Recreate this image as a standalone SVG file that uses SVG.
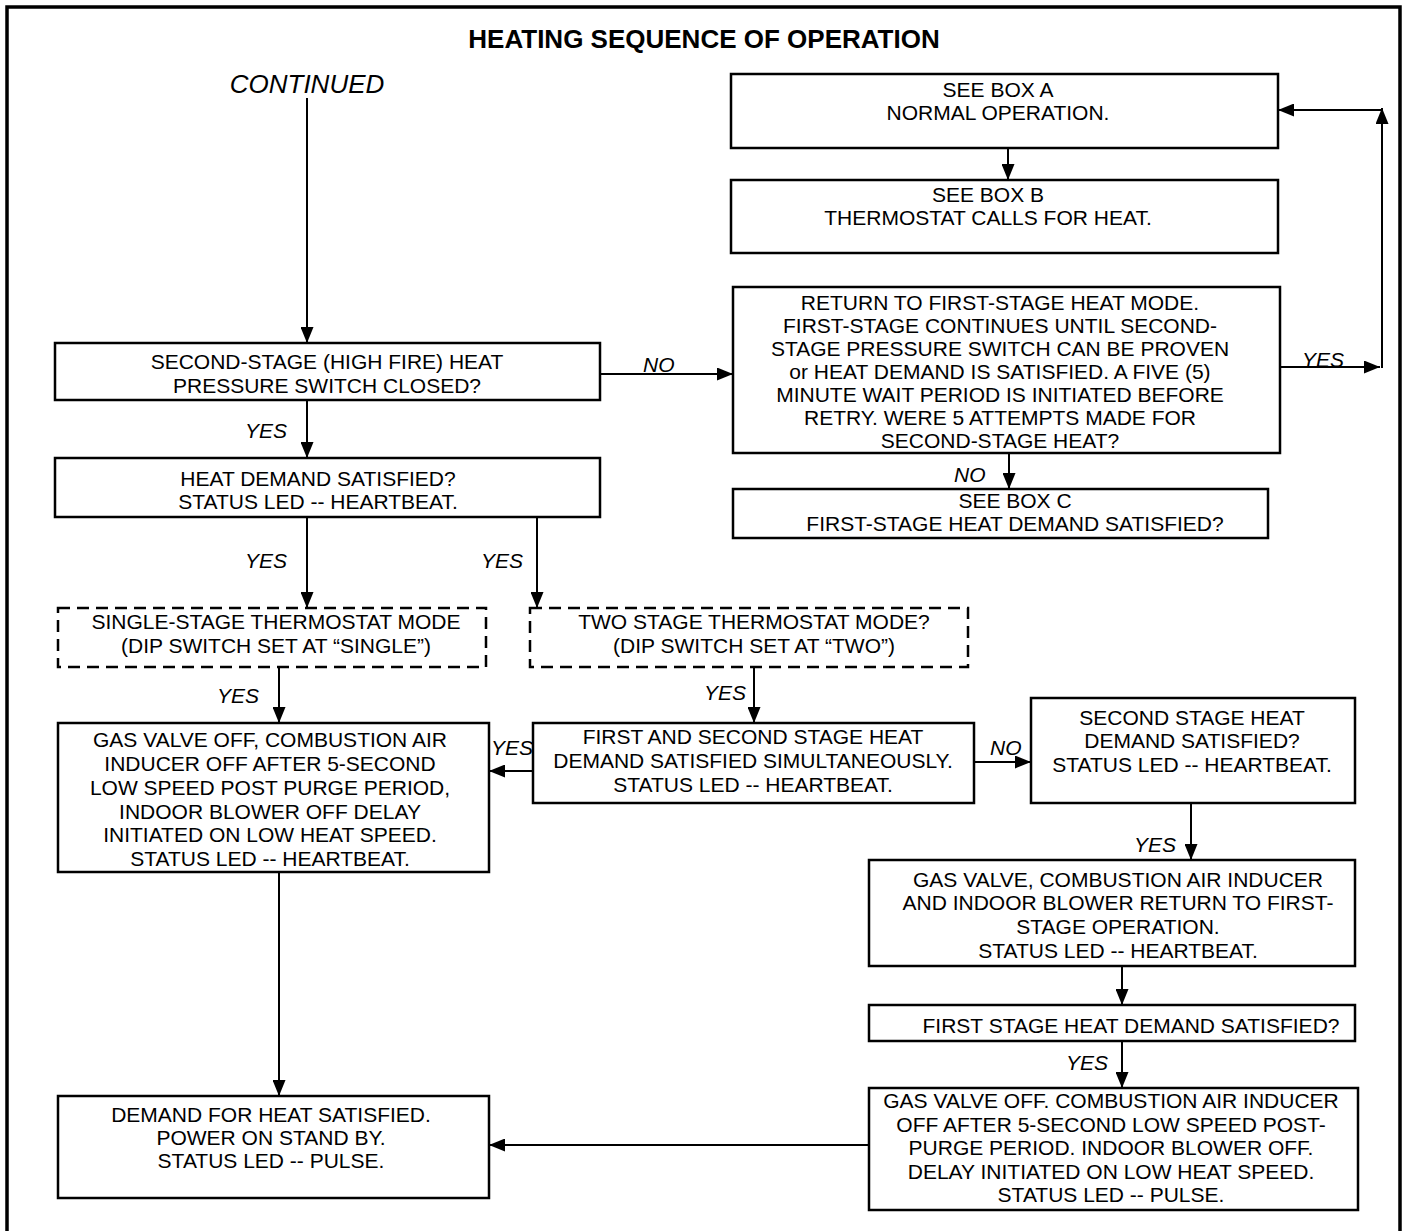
<svg xmlns="http://www.w3.org/2000/svg" width="1408" height="1231" viewBox="0 0 1408 1231">
<style>
.box{fill:#fff;stroke:#000;stroke-width:2.5}
.dash{stroke-dasharray:12 7}
.t{font-family:"Liberation Sans",Arial,sans-serif;font-size:21px;text-anchor:middle;fill:#000}
.lbl{font-family:"Liberation Sans",Arial,sans-serif;font-size:21px;font-style:italic;fill:#000}
.c{stroke:#000;stroke-width:2;fill:none;marker-end:url(#ah)}
.frame{stroke:#000;stroke-width:3.5;fill:none}
</style>
<defs>
<marker id="ah" viewBox="0 0 16 13" refX="16" refY="6.5" markerWidth="16" markerHeight="13" markerUnits="userSpaceOnUse" orient="auto">
<path d="M0,0 L16,6.5 L0,13 z" fill="#000"/>
</marker>
</defs>
<rect width="1408" height="1231" fill="#fff"/>
<path class="frame" d="M7,1231 V7 H1400 V1231"/>
<text x="704" y="48" style="font-family:'Liberation Sans',Arial,sans-serif;font-size:26px;font-weight:bold;text-anchor:middle">HEATING SEQUENCE OF OPERATION</text>
<text x="307" y="93" style="font-family:'Liberation Sans',Arial,sans-serif;font-size:26px;font-style:italic;text-anchor:middle">CONTINUED</text>

<g id="connectors">
<path class="c" d="M307,98 V343"/>
<path class="c" d="M307,400 V458"/>
<path class="c" d="M600,374 H733"/>
<path class="c" d="M307,517 V608"/>
<path class="c" d="M537,517 V608"/>
<path class="c" d="M279,667 V723"/>
<path class="c" d="M754,667 V723"/>
<path class="c" d="M533,771 H489"/>
<path class="c" d="M974,762 H1031"/>
<path class="c" d="M1191,803 V860"/>
<path class="c" d="M1122,966 V1005"/>
<path class="c" d="M1122,1041 V1088"/>
<path class="c" d="M869,1145 H489"/>
<path class="c" d="M279,872 V1096"/>
<path class="c" d="M1008,148 V180"/>
<path class="c" d="M1009,453 V489"/>
<path class="c" d="M1280,367 H1380"/>
<path class="c" d="M1382,368 V108"/>
<path class="c" d="M1382,110 H1278"/>
<text class="lbl" x="643" y="372">NO</text>
<text class="lbl" x="245" y="438">YES</text>
<text class="lbl" x="245" y="568">YES</text>
<text class="lbl" x="481" y="568">YES</text>
<text class="lbl" x="217" y="703">YES</text>
<text class="lbl" x="704" y="700">YES</text>
<text class="lbl" x="491" y="755">YES</text>
<text class="lbl" x="990" y="755">NO</text>
<text class="lbl" x="1134" y="852">YES</text>
<text class="lbl" x="1066" y="1070">YES</text>
<text class="lbl" x="954" y="482">NO</text>
<text class="lbl" x="1302" y="367">YES</text>
</g>

<g id="boxA">
<rect class="box" x="731" y="74" width="547" height="74"/>
<text class="t" x="998" y="97">SEE BOX A</text>
<text class="t" x="998" y="120">NORMAL OPERATION.</text>
</g>
<g id="boxB">
<rect class="box" x="731" y="180" width="547" height="73"/>
<text class="t" x="988" y="202">SEE BOX B</text>
<text class="t" x="988" y="225">THERMOSTAT CALLS FOR HEAT.</text>
</g>
<g id="boxR">
<rect class="box" x="733" y="287" width="547" height="166"/>
<text class="t" x="1000" y="310">RETURN TO FIRST-STAGE HEAT MODE.</text>
<text class="t" x="1000" y="333">FIRST-STAGE CONTINUES UNTIL SECOND-</text>
<text class="t" x="1000" y="356">STAGE PRESSURE SWITCH CAN BE PROVEN</text>
<text class="t" x="1000" y="379">or HEAT DEMAND IS SATISFIED. A FIVE (5)</text>
<text class="t" x="1000" y="402">MINUTE WAIT PERIOD IS INITIATED BEFORE</text>
<text class="t" x="1000" y="425">RETRY. WERE 5 ATTEMPTS MADE FOR</text>
<text class="t" x="1000" y="448">SECOND-STAGE HEAT?</text>
</g>
<g id="boxC">
<rect class="box" x="733" y="489" width="535" height="49"/>
<text class="t" x="1015" y="508">SEE BOX C</text>
<text class="t" x="1015" y="531">FIRST-STAGE HEAT DEMAND SATISFIED?</text>
</g>
<g id="box1">
<rect class="box" x="55" y="343" width="545" height="57"/>
<text class="t" x="327" y="369">SECOND-STAGE (HIGH FIRE) HEAT</text>
<text class="t" x="327" y="393">PRESSURE SWITCH CLOSED?</text>
</g>
<g id="box2">
<rect class="box" x="55" y="458" width="545" height="59"/>
<text class="t" x="318" y="486">HEAT DEMAND SATISFIED?</text>
<text class="t" x="318" y="509">STATUS LED -- HEARTBEAT.</text>
</g>
<g id="box3">
<rect class="box dash" x="58" y="608" width="428" height="59"/>
<text class="t" x="276" y="629">SINGLE-STAGE THERMOSTAT MODE</text>
<text class="t" x="276" y="653">(DIP SWITCH SET AT “SINGLE”)</text>
</g>
<g id="box4">
<rect class="box dash" x="530" y="608" width="438" height="59"/>
<text class="t" x="754" y="629">TWO STAGE THERMOSTAT MODE?</text>
<text class="t" x="754" y="653">(DIP SWITCH SET AT “TWO”)</text>
</g>
<g id="box5">
<rect class="box" x="58" y="723" width="431" height="149"/>
<text class="t" x="270" y="747">GAS VALVE OFF, COMBUSTION AIR</text>
<text class="t" x="270" y="771">INDUCER OFF AFTER 5-SECOND</text>
<text class="t" x="270" y="795">LOW SPEED POST PURGE PERIOD,</text>
<text class="t" x="270" y="819">INDOOR BLOWER OFF DELAY</text>
<text class="t" x="270" y="842">INITIATED ON LOW HEAT SPEED.</text>
<text class="t" x="270" y="866">STATUS LED -- HEARTBEAT.</text>
</g>
<g id="box6">
<rect class="box" x="533" y="723" width="441" height="80"/>
<text class="t" x="753" y="744">FIRST AND SECOND STAGE HEAT</text>
<text class="t" x="753" y="768">DEMAND SATISFIED SIMULTANEOUSLY.</text>
<text class="t" x="753" y="792">STATUS LED -- HEARTBEAT.</text>
</g>
<g id="box7">
<rect class="box" x="1031" y="698" width="324" height="105"/>
<text class="t" x="1192" y="725">SECOND STAGE HEAT</text>
<text class="t" x="1192" y="748">DEMAND SATISFIED?</text>
<text class="t" x="1192" y="772">STATUS LED -- HEARTBEAT.</text>
</g>
<g id="box8">
<rect class="box" x="869" y="860" width="486" height="106"/>
<text class="t" x="1118" y="887">GAS VALVE, COMBUSTION AIR INDUCER</text>
<text class="t" x="1118" y="910">AND INDOOR BLOWER RETURN TO FIRST-</text>
<text class="t" x="1118" y="934">STAGE OPERATION.</text>
<text class="t" x="1118" y="958">STATUS LED -- HEARTBEAT.</text>
</g>
<g id="box9">
<rect class="box" x="869" y="1005" width="486" height="36"/>
<text class="t" x="1131" y="1033">FIRST STAGE HEAT DEMAND SATISFIED?</text>
</g>
<g id="box10">
<rect class="box" x="869" y="1088" width="489" height="122"/>
<text class="t" x="1111" y="1108">GAS VALVE OFF. COMBUSTION AIR INDUCER</text>
<text class="t" x="1111" y="1132">OFF AFTER 5-SECOND LOW SPEED POST-</text>
<text class="t" x="1111" y="1155">PURGE PERIOD. INDOOR BLOWER OFF.</text>
<text class="t" x="1111" y="1179">DELAY INITIATED ON LOW HEAT SPEED.</text>
<text class="t" x="1111" y="1202">STATUS LED -- PULSE.</text>
</g>
<g id="box11">
<rect class="box" x="58" y="1096" width="431" height="102"/>
<text class="t" x="271" y="1122">DEMAND FOR HEAT SATISFIED.</text>
<text class="t" x="271" y="1145">POWER ON STAND BY.</text>
<text class="t" x="271" y="1168">STATUS LED -- PULSE.</text>
</g>
</svg>
